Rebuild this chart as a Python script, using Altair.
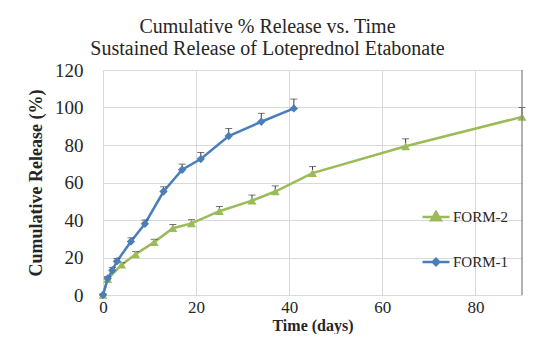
import altair as alt
import pandas as pd

# ---- data ----
form1_time = [0, 1, 2, 3, 6, 9, 13, 17, 21, 27, 34, 41]
form1_release = [0, 8.8, 13.2, 18, 28.5, 38, 55.2, 66.8, 72.5, 84.8, 92.4, 99.5]
form1_err = [0.5, 1, 1.5, 1.5, 2, 2, 2.5, 3, 3.5, 4, 4.5, 5]

form2_time = [0, 1, 4, 7, 11, 15, 19, 25, 32, 37, 45, 65, 90]
form2_release = [0, 8.5, 16.2, 21.7, 28.2, 35.6, 38.2, 44.7, 50.3, 55.2, 65, 79.3, 95]
form2_err = [0.5, 1, 1, 1.5, 1.5, 2, 2, 2.5, 3, 3, 3.5, 4, 5]

series_names = ["FORM-2", "FORM-1"]
series_colors = ["#9BBB59", "#4A7EBB"]
x_ticks = [0, 20, 40, 60, 80]
y_ticks = [0, 20, 40, 60, 80, 100, 120]
x_max = 90
y_max = 120

df1 = pd.DataFrame({"t": form1_time, "r": form1_release, "e": form1_err})
df1["top"] = df1["r"] + df1["e"]
df2 = pd.DataFrame({"t": form2_time, "r": form2_release, "e": form2_err})
df2["top"] = df2["r"] + df2["e"]

FONT = "Liberation Serif"
TXT = "#262626"

xscale = alt.Scale(domain=[0, x_max], nice=False, zero=True)
yscale = alt.Scale(domain=[0, y_max], nice=False)

xaxis = alt.Axis(values=x_ticks, title="Time (days)", grid=True, ticks=False,
                 labelOverlap=False, labelFlush=False, labelFontSize=17,
                 labelPadding=4, titlePadding=2, titleFontSize=16,
                 domainColor="#d9d9d9")
yaxis = alt.Axis(values=y_ticks, title="Cumulative Release (%)", grid=True, ticks=False,
                 labelOverlap=False, labelFlush=False, labelFontSize=19,
                 labelPadding=20, titlePadding=9, titleFontSize=18,
                 domainColor="#d9d9d9")

X = alt.X("t:Q", scale=xscale, axis=xaxis)
Y = alt.Y("r:Q", scale=yscale, axis=yaxis)


def series_layers(df, color, shape, size):
    base = alt.Chart(df)
    line = base.mark_line(color=color, strokeWidth=2.5).encode(x=X, y=Y)
    err = base.mark_rule(color="#3a3a3a", strokeWidth=1).encode(
        x=X, y=Y, y2="top:Q")
    cap = base.mark_tick(color="#3a3a3a", thickness=1, size=7, orient="horizontal").encode(
        x=X, y=alt.Y("top:Q", scale=yscale, axis=yaxis))
    pts = base.mark_point(filled=True, color=color, opacity=1, shape=shape, size=size).encode(
        x=X, y=Y)
    return [line, err, cap, pts]


# right frame border at the end of the x domain
frame_df = pd.DataFrame({"t": [x_max], "r": [0], "y1": [y_max]})
frame = alt.Chart(frame_df).mark_rule(color="#7f7f7f", strokeWidth=1.2).encode(
    x=X, y=Y, y2="y1:Q")

# legend-only layer (no drawn data)
tri_path = "M-1,0H1M0,-0.38L0.36,0.24L-0.36,0.24Z"
dia_path = "M-1,0H1M0,-0.24L0.24,0L0,0.24L-0.24,0Z"
leg_df = pd.DataFrame({"series": series_names, "t": [0, 0], "r": [0, 0]})
legend_layer = alt.Chart(leg_df).transform_filter("false").mark_point(
    filled=True, strokeWidth=2.5, opacity=1).encode(
    x=X, y=Y,
    color=alt.Color("series:N", scale=alt.Scale(domain=series_names, range=series_colors),
                    legend=alt.Legend(title=None, orient="none", legendX=318, legendY=132,
                                      symbolSize=729, rowPadding=21, labelOffset=2,
                                      padding=0, labelFont=FONT, labelFontSize=15,
                                      labelColor=TXT, symbolStrokeWidth=2.5)),
    stroke=alt.Stroke("series:N", scale=alt.Scale(domain=series_names, range=series_colors)),
    shape=alt.Shape("series:N", scale=alt.Scale(domain=series_names, range=[tri_path, dia_path])),
)

layers = series_layers(df2, series_colors[0], "triangle-up", 80) + \
    series_layers(df1, series_colors[1], "diamond", 70) + [frame, legend_layer]

chart = alt.layer(*layers).properties(
    width=419, height=225,
    title=alt.TitleParams(
        ["Cumulative % Release vs. Time", "Sustained Release of Loteprednol Etabonate"],
        font=FONT, fontSize=20, fontWeight="normal", color=TXT, anchor="middle",
        dx=-45, offset=2, lineHeight=22),
    autosize=alt.AutoSizeParams(type="none"),
    padding={"left": 95, "top": 62, "right": 12, "bottom": 39},
    background="white",
).configure_view(stroke=None).configure_axis(
    labelFont=FONT, labelColor=TXT,
    titleFont=FONT, titleFontWeight="bold", titleColor=TXT,
    gridColor="#d9d9d9", gridWidth=1,
)

chart.save("out.html", embed_options={"renderer": "svg", "actions": False})
